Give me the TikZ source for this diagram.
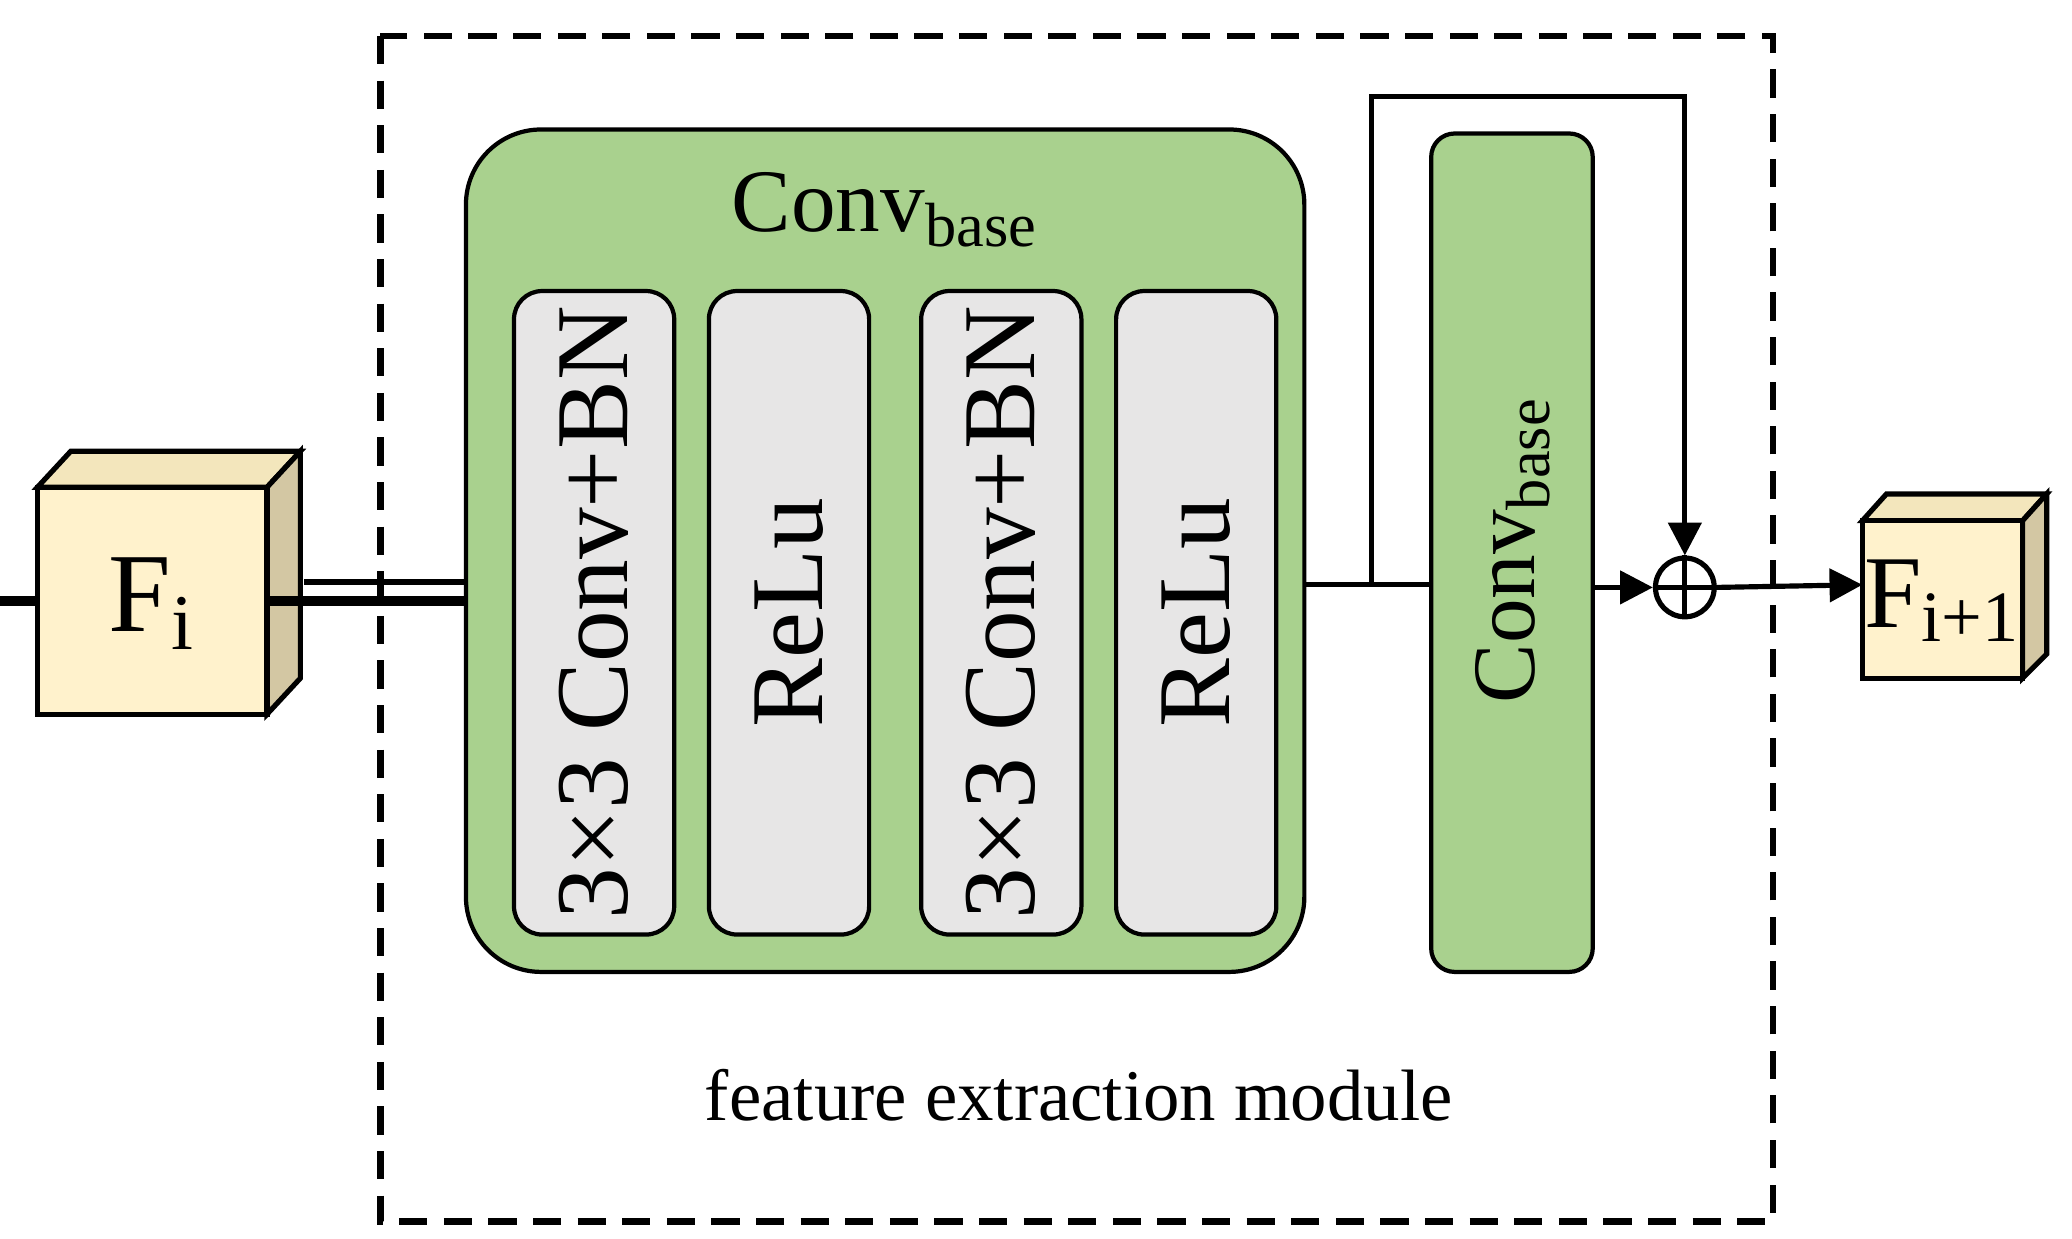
\documentclass[tikz,border=0pt]{standalone}
\usepackage{fontspec}
\setmainfont{Liberation Serif}
\usetikzlibrary{arrows.meta}
\definecolor{gr}{HTML}{A9D18E}
\definecolor{gy}{HTML}{E7E6E6}
\definecolor{cf}{HTML}{FFF2CC}
\definecolor{ct}{HTML}{F3E6BC}
\definecolor{cs}{HTML}{D3C7A3}
\begin{document}
\begin{tikzpicture}[x=0.01cm,y=-0.01cm,
  ln/.style={line width=1.1pt},
  arr/.style={ln,-{Triangle[length=7pt,width=7pt]}},
  gbox/.style={draw,line width=0.9pt,fill=gy,rounded corners=6pt},
  big/.style={font=\fontsize{22}{24}\selectfont}]
\useasboundingbox (0,0) rectangle (1552,928);
\draw[line width=1.4pt,dash pattern=on 6pt off 3.5pt] (285,27) rectangle (1328,915);
% Fi cube
\draw[ln,fill=ct] (28,365)--(53,338)--(225,338)--(200,365)--cycle;
\draw[ln,fill=cs] (200,365)--(225,338)--(225,508)--(200,535)--cycle;
\node[draw,ln,fill=cf,minimum width=172\pgflinewidth,inner sep=0] (fi) at (114,450) {};
\draw[ln,fill=cf] (28,365) rectangle (200,535);
\node[font=\fontsize{24}{26}\selectfont] (fit) at (114,452) {F\textsubscript{i}};
\coordinate (fiR) at (228,436);
% Fi+1 cube
\draw[ln,fill=ct] (1395,390)--(1413,370)--(1533,370)--(1515,390)--cycle;
\draw[ln,fill=cs] (1515,390)--(1533,370)--(1533,490)--(1515,508)--cycle;
\draw[ln,fill=cf] (1395,390) rectangle (1515,508);
\node[font=\fontsize{22}{24}\selectfont,inner sep=0] (fo) at (1455,450) {F\textsubscript{i+1}};
\coordinate (foL) at (1395,438);
% big green
\draw[line width=0.9pt,fill=gr,rounded corners=16pt] (349,97) rectangle (977,728);
\node[font=\fontsize{19}{21}\selectfont] (t1) at (663,157) {Conv\textsubscript{base}};
\foreach \x/\t [count=\i] in {385/{3×3 Conv+BN},531/ReLu,690/{3×3 Conv+BN},836/ReLu}{
  \draw[gbox] (\x,218) rectangle (\x+120,700);
  \node[big,rotate=90] (g\i) at (\x+60,459) {\t};
}
% conv2
\draw[line width=0.9pt,fill=gr,rounded corners=5pt] (1072,100) rectangle (1193,728);
\node[font=\fontsize{19}{21}\selectfont,rotate=90] (c2) at (1133,412) {Conv\textsubscript{base}};
% circle
\node[draw,ln,circle,minimum size=44\pgflinewidth,inner sep=0,minimum size=0.44cm] (p) at (1262,440) {};
\draw[ln] (p.north)--(p.south) (p.west)--(p.east);
% connectors
\draw[ln] (fiR)--(349,436);
\coordinate (br) at (1027,438);
\draw[ln] (977,438)--(1072,438);
\draw[arr] (br)--(1027,72)--(1262,72)--(p.north);
\draw[arr] (1193,440)--(p.west);
\draw[arr] (p.east)--(foL);
\node[font=\fontsize{15.5}{18}\selectfont] (lab) at (808,820) {feature extraction module};
\end{tikzpicture}
\end{document}
